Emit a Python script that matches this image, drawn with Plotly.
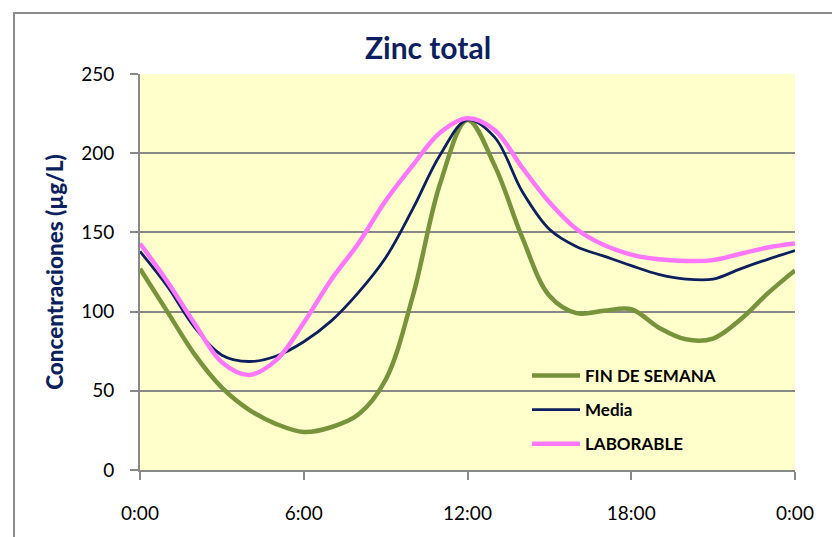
import plotly.graph_objects as go

hours = list(range(25))
fin_de_semana = [127, 100, 73, 52, 38, 29, 24, 27, 35, 57, 110, 181, 221, 192, 147, 110, 99, 100.5, 101.5, 90, 82.5, 83, 95, 111.5, 126]
media = [138, 116, 90, 72.5, 68.5, 72, 81, 94, 112, 134, 165, 199, 221, 210, 176, 152, 141, 135, 129, 123.5, 120.5, 120.5, 127, 133, 138.5]
laborable = [143, 119, 92.5, 68, 60, 69.5, 93, 120, 143, 170, 192.5, 213, 222, 214.5, 191, 169, 152, 142, 136, 133, 132, 132.5, 136.5, 140.5, 143]

tick_vals = [0, 6, 12, 18, 24]
tick_text = ["0:00", "6:00", "12:00", "18:00", "0:00"]
y_ticks = [0, 50, 100, 150, 200, 250]

series = [
    ("FIN DE SEMANA", fin_de_semana, "#77933C", 4.5),
    ("Media", media, "#0C1F5E", 2.8),
    ("LABORABLE", laborable, "#FF77FF", 4.5),
]

fig = go.Figure()
for i, (name, vals, color, width) in enumerate(series):
    fig.add_trace(go.Scatter(
        x=hours, y=vals, name=name, mode="lines",
        line=dict(color=color, width=width, shape="spline", smoothing=1.0),
        legendgroup=f"g{i}",
    ))

W, H = 832, 537
L, R, T, B = 140, 37, 74, 67
pw = W - L - R
ph = H - T - B
FONT = "Lato, Open Sans, sans-serif"

fig.update_layout(
    width=W, height=H,
    margin=dict(l=L, r=R, t=T, b=B, pad=0),
    paper_bgcolor="white",
    plot_bgcolor="#FFFFCC",
    font=dict(family=FONT, color="black", size=19),
    title=dict(text="<b>Zinc total</b>", x=428 / W, xref="container", xanchor="center",
               y=1 - 48 / H, yref="container", yanchor="middle",
               font=dict(family=FONT, size=30, color="#0C1F5E")),
    showlegend=True,
    legend=dict(x=(527 - L) / pw, y=(470 - 358) / ph, xanchor="left", yanchor="top",
                bgcolor="rgba(0,0,0,0)", borderwidth=0, traceorder="grouped",
                tracegroupgap=9, itemwidth=48,
                font=dict(family=FONT, size=17, color="black", weight="bold")),
    xaxis=dict(range=[0, 24], tickvals=tick_vals, ticktext=tick_text, showgrid=False,
               zeroline=False, showline=True, linecolor="#888888", linewidth=2,
               ticks="outside", ticklen=8, tickwidth=2, tickcolor="#888888",
               ticklabelstandoff=17, tickfont=dict(size=19)),
    yaxis=dict(range=[0, 250], tickvals=y_ticks, showgrid=True, gridcolor="#888888", gridwidth=2,
               zeroline=False, showline=True, linecolor="#888888", linewidth=2,
               ticks="outside", ticklen=8, tickwidth=2, tickcolor="#888888",
               ticklabelstandoff=12, tickfont=dict(size=19),
               title=dict(text="Concentraciones (µg/L)", standoff=11,
                          font=dict(family=FONT, size=22.5, color="#0C1F5E", weight=900))),
)

# outer chart-area border (top-left visible portion)
fig.add_shape(type="rect", xref="paper", yref="paper",
              x0=(14 - L) / pw, x1=(W + 10 - L) / pw,
              y0=(H - B - (H + 10)) / ph, y1=(H - B - 13) / ph,
              line=dict(color="#8C8C8C", width=2), fillcolor="rgba(0,0,0,0)", layer="below")

fig.write_html("out.html", config={"displayModeBar": False},
               post_script="document.body.style.margin='0px';document.body.style.overflow='hidden';")
